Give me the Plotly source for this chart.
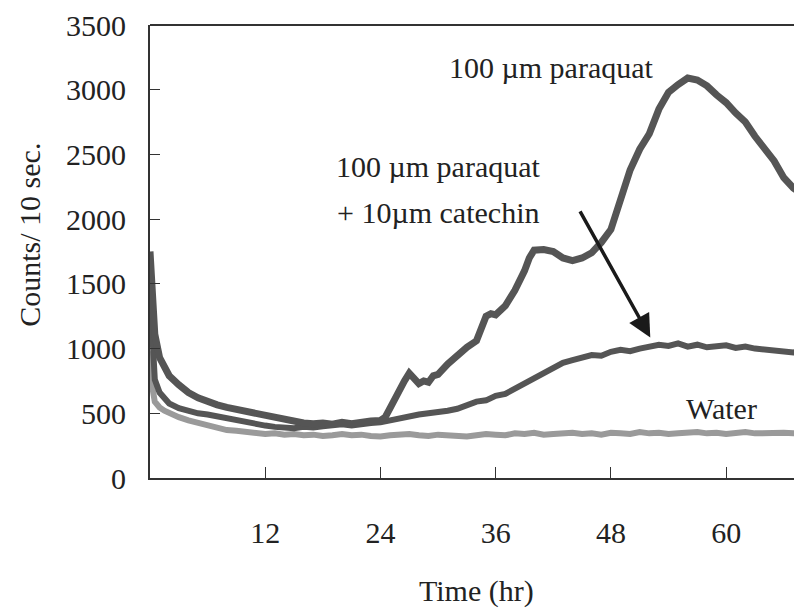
import plotly.graph_objects as go

# ---- data ----
paraquat_t = [0, 0.2, 0.5, 1, 1.5, 2, 3, 4, 5, 6, 7, 8, 9, 10, 11, 12, 13, 14, 15, 16, 17, 18, 19, 20, 21, 22, 23, 24,
              24.5, 25, 25.5, 26, 26.5, 27, 27.5, 28, 28.5, 29, 29.5, 30, 31, 32, 33, 34, 34.5, 35, 35.5, 36,
              37, 38, 39, 39.5, 40, 41, 42, 43, 44, 45, 46, 47, 48, 49, 50, 51, 52, 53, 54, 55, 56, 57, 58, 59,
              60, 61, 62, 63, 64, 65, 66, 67, 67.8]
paraquat_v = [1750, 1400, 1110, 930, 850, 790,
              720, 660, 620, 590, 565, 545, 530, 515, 500, 475, 465, 455, 440, 425, 420, 425, 415, 430, 420, 435, 440, 445,
              470, 540, 620, 680, 750, 810, 760, 730, 750, 740, 790, 800,
              880, 950, 1010, 1060,
              1150, 1250, 1270, 1260,
              1330, 1450, 1600,
              1700,
              1760, 1765, 1750, 1700, 1680, 1700, 1740, 1820, 1920, 2150, 2380, 2540, 2660, 2850, 2980, 3040,
              3090, 3075, 3030, 2960, 2900, 2820, 2750, 2640, 2550, 2450, 2320, 2240,
              2200]

time_t = [0, 0.2, 0.5, 1, 1.5, 2, 3, 4, 5, 6, 7, 8, 9, 10, 11, 12, 13, 14, 15, 16, 17, 18, 19, 20, 21, 22, 23, 24,
          25, 26, 27, 28, 29, 30, 31, 32, 33, 34, 35, 36, 37, 38, 39, 40, 41, 42, 43, 44, 45, 46, 47, 48, 49, 50,
          51, 52, 53, 54, 55, 56, 57, 58, 59, 60, 61, 62, 63, 64, 65, 66, 67, 67.8]
catechin_v = [1450, 1050, 760, 660, 610, 575,
              540, 515, 500, 490, 475, 460, 440, 430, 415, 405, 395, 390, 385, 395, 390, 400, 410, 415, 405, 420, 425, 430,
              445, 470, 475, 490, 500, 505, 520, 535, 560, 590, 600, 635, 650, 690, 720, 770, 810, 850, 890, 910, 930,
              950, 945, 975, 990, 980, 1000, 1010, 1030, 1020, 1040, 1015, 1030, 1010, 1020, 1025, 1005, 1015, 1000,
              995, 980, 985, 970,
              980]
water_v = [980, 720, 590, 545, 520, 500,
           470, 445, 425, 400, 385, 370, 365, 355, 350, 340, 345, 335, 340, 330, 335, 325, 330, 340, 330, 335, 325, 320,
           330, 335, 340, 330, 325, 335, 330, 315, 320, 330, 340, 335, 330, 345, 340, 350, 335, 340, 345, 350, 340,
           345, 335, 350, 345, 340, 355, 345, 350, 340, 345, 350, 355, 345, 350, 340, 350, 355, 345, 350, 355, 350,
           345,
           350]

x_ticks = [12, 24, 36, 48, 60]
y_ticks = [0, 500, 1000, 1500, 2000, 2500, 3000, 3500]

FONT = "Liberation Serif, Times New Roman, serif"
FS = 30

fig = go.Figure()
fig.add_trace(go.Scatter(x=time_t, y=water_v, mode="lines", name="Water",
                         line=dict(color="#9a9a9a", width=6)))
fig.add_trace(go.Scatter(x=time_t, y=catechin_v, mode="lines", name="100 µm paraquat + 10µm catechin",
                         line=dict(color="#555555", width=6)))
fig.add_trace(go.Scatter(x=paraquat_t, y=paraquat_v, mode="lines", name="100 µm paraquat",
                         line=dict(color="#555555", width=7)))

fig.update_layout(
    width=794, height=601,
    margin=dict(l=142, r=0, t=12, b=131),
    paper_bgcolor="white", plot_bgcolor="white",
    showlegend=False,
    font=dict(family=FONT, size=FS, color="#222222"),
    xaxis=dict(range=[0, 67.9], tickvals=x_ticks, ticks="inside", ticklen=11, tickcolor="#333333",
               showline=True, linecolor="#333333", linewidth=2, showgrid=False, zeroline=False,
               ticklabelstandoff=27, tickfont=dict(family=FONT, size=FS, color="#222222")),
    yaxis=dict(range=[0, 3500], tickvals=y_ticks, ticks="inside", ticklen=10, tickcolor="#333333",
               showline=True, linecolor="#333333", linewidth=2, showgrid=False, zeroline=False,
               ticklabelstandoff=16, ticklabeloverflow="allow",
               tickfont=dict(family=FONT, size=FS, color="#222222")),
)

# top border of plot box
fig.add_shape(type="line", xref="paper", yref="paper", x0=0, x1=1, y0=1, y1=1,
              line=dict(color="#333333", width=2))

ann_font = dict(family=FONT, size=FS, color="#222222")
fig.add_annotation(x=41.8, y=3173, text="100 µm paraquat", showarrow=False, font=ann_font,
                   xanchor="center", yanchor="middle")
fig.add_annotation(x=30.0, y=2408, text="100 µm paraquat", showarrow=False, font=ann_font,
                   xanchor="center", yanchor="middle")
fig.add_annotation(x=30.0, y=2049, text="+ 10µm catechin", showarrow=False, font=ann_font,
                   xanchor="center", yanchor="middle")
fig.add_annotation(x=59.5, y=535, text="Water", showarrow=False, font=ann_font,
                   xanchor="center", yanchor="middle")

# arrow
fig.add_annotation(x=52.1, y=1086, ax=44.7, ay=2072, xref="x", yref="y", axref="x", ayref="y",
                   text="", showarrow=True, arrowhead=2, arrowsize=1.3, arrowwidth=3.5, arrowcolor="#1a1a1a")

# axis titles
fig.add_annotation(xref="paper", yref="paper", x=-0.184, y=0.537, text="Counts/ 10 sec.",
                   textangle=-90, showarrow=False, font=ann_font, xanchor="center", yanchor="middle")
fig.add_annotation(xref="paper", yref="paper", x=0.5, y=-0.249, text="Time (hr)",
                   showarrow=False, font=ann_font, xanchor="center", yanchor="middle")

fig.write_html("out.html")
